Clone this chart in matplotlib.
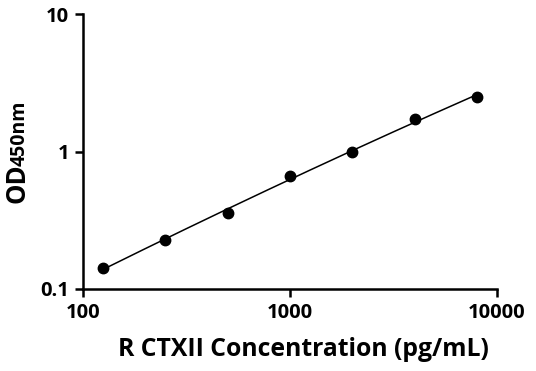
import numpy as np
import matplotlib.pyplot as plt

plt.rcParams['font.family'] = ['Open Sans', 'DejaVu Sans']
plt.rcParams['font.weight'] = 'bold'

# standard concentrations and measured OD
conc = [125, 250, 500, 1000, 2000, 4000, 8000]
od = [0.143, 0.228, 0.355, 0.665, 1.0, 1.72, 2.5]

x_ticks = [100, 1000, 10000]
x_tick_labels = ['100', '1000', '10000']
y_ticks = [0.1, 1, 10]
y_tick_labels = ['0.1', '1', '10']

# smooth fitted curve (quadratic in log-log space)
lx = np.log10(conc)
ly = np.log10(od)
coef = np.polyfit(lx, ly, 2)
xs = np.logspace(lx[0], lx[-1], 200)
ys = 10 ** np.polyval(coef, np.log10(xs))

fig = plt.figure(figsize=(5.36, 3.71), dpi=100)
ax = fig.add_axes([83/536, 1 - 289/371, (497 - 83)/536, (289 - 14)/371])

ax.plot(xs, ys, color='black', lw=1.1, zorder=2)
ax.plot(conc, od, 'o', color='black', ms=7.5, zorder=3, clip_on=False)

ax.set_xscale('log')
ax.set_yscale('log')
ax.set_xlim(100, 10000)
ax.set_ylim(0.1, 10)
ax.set_xticks(x_ticks)
ax.set_xticklabels(x_tick_labels)
ax.set_yticks(y_ticks)
ax.set_yticklabels(y_tick_labels)
ax.minorticks_off()

for s in ['top', 'right']:
    ax.spines[s].set_visible(False)
for s in ['left', 'bottom']:
    ax.spines[s].set_linewidth(1.8)
ax.tick_params(width=1.8, length=6, labelsize=14.5, pad=4)

ax.set_xlabel('R CTXII Concentration (pg/mL)', fontsize=17.8, fontweight='bold')
ax.xaxis.set_label_coords((303 - 83) / (497 - 83), -(337 - 289) / (289 - 14))

t_od = fig.text(25/536, 1 - 203/371, 'OD', rotation=90, rotation_mode='anchor',
                ha='left', va='baseline', fontsize=18.5, fontweight='bold')
fig.canvas.draw()
bb = t_od.get_window_extent()
fig.text(25/536, (bb.y1 - 3) / fig.bbox.height, '450nm', rotation=90, rotation_mode='anchor',
         ha='left', va='baseline', fontsize=14, fontweight='bold')

plt.savefig('out.png', dpi=100)
